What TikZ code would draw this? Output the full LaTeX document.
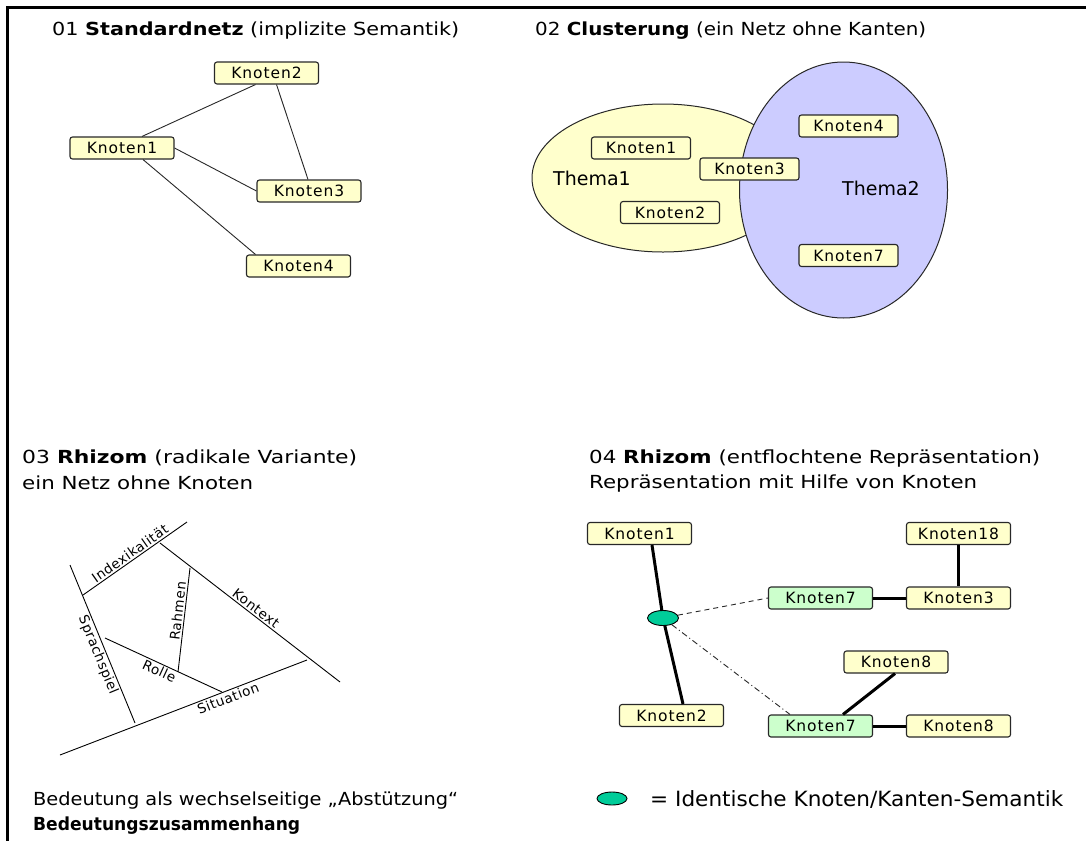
\documentclass[tikz,border=0pt]{standalone}
\usepackage{fontspec}
\usepackage{graphicx}
\setmainfont{DejaVu Sans}
\usetikzlibrary{shapes.geometric}
\definecolor{nodeyellow}{RGB}{255,255,204}
\definecolor{nodegreen}{RGB}{204,255,204}
\definecolor{clusteryellow}{RGB}{255,255,204}
\definecolor{clusterblue}{RGB}{204,204,255}
\definecolor{identgreen}{RGB}{0,204,153}
\definecolor{edgegray}{RGB}{40,40,40}
% set a line of text to a given overall width, keeping its height
\newcommand\fitline[2]{\resizebox{#1}{\height}{#2}}
\tikzset{
  knoten/.style={draw=edgegray, line width=1.1pt, fill=nodeyellow, rounded corners=2.5pt,
    minimum width=104pt, minimum height=22pt, inner sep=0pt,
    font=\fontsize{15.5}{15.5}\selectfont\addfontfeatures{LetterSpace=6}},
  knotengruen/.style={knoten, fill=nodegreen},
  title/.style={anchor=base west, inner sep=0pt, font=\fontsize{18}{20}\selectfont},
  thema/.style={inner sep=0pt, font=\fontsize{19}{20}\selectfont},
  thin edge/.style={draw=edgegray, line width=0.9pt},
  thick edge/.style={draw=black, line width=3pt},
  rhizom/.style={draw=black, line width=0.9pt},
  rlabel/.style={sloped, inner sep=1.5pt,
    font=\fontsize{13.5}{13.5}\selectfont\addfontfeatures{LetterSpace=4}},
  ident/.style={ellipse, draw=black, line width=0.9pt, fill=identgreen, minimum width=31pt,
    minimum height=15pt, inner sep=0pt},
  note/.style={anchor=base west, inner sep=0pt, font=\fontsize{18}{20}\selectfont},
}
\begin{document}
\begin{tikzpicture}[x=1pt,y=-1pt]
\useasboundingbox (0,0) rectangle (1086,841);
\fill[white] (0,0) rectangle (1086,841);

% frame
\coordinate (frameTL) at (7.5,7.5);
\coordinate (frameTR) at (1086,7.5);
\coordinate (frameBL) at (7.5,841);
\draw[line width=3pt] (frameTR) -- (frameTL) -- (frameBL);

% ---------- 01 Standardnetz ----------
\node[title] (t1) at (52,35) {\fitline{407pt}{01 \textbf{Standardnetz} (implizite Semantik)}};
\node[knoten] (s2) at (266.5,73) {Knoten2};
\node[knoten] (s1) at (122,148) {Knoten1};
\node[knoten] (s3) at (309,191) {Knoten3};
\node[knoten] (s4) at (298.5,266) {Knoten4};
\draw[thin edge] ([xshift=20pt]s1.north) -- ([xshift=-11pt]s2.south);
\draw[thin edge] ([xshift=10pt]s2.south) -- ([xshift=-1pt]s3.north);
\draw[thin edge] (s1.east) -- (s3.west);
\draw[thin edge] ([xshift=21pt]s1.south) -- ([xshift=-43pt]s4.north);

% ---------- 02 Clusterung ----------
\node[title] (t2) at (535,35) {\fitline{391pt}{02 \textbf{Clusterung} (ein Netz ohne Kanten)}};
\node[ellipse, draw=edgegray, line width=1pt, fill=clusteryellow, minimum width=262pt,
  minimum height=148pt, inner sep=0pt] (c1) at (663,178) {};
\node[ellipse, draw=edgegray, line width=1pt, fill=clusterblue, minimum width=208pt,
  minimum height=256pt, inner sep=0pt] (c2) at (843.5,190) {};
\node[thema] (th1) at (592,178) {Thema1};
\node[thema] (th2) at (881,188) {Thema2};
\node[knoten, minimum width=99pt] (u1) at (641,148) {Knoten1};
\node[knoten, minimum width=99pt] (u3) at (749.5,169) {Knoten3};
\node[knoten, minimum width=99pt] (u2) at (670,212.5) {Knoten2};
\node[knoten, minimum width=99pt] (u4) at (848.5,126) {Knoten4};
\node[knoten, minimum width=99pt] (u7) at (848.5,255.5) {Knoten7};

% ---------- 03 Rhizom (radikale Variante) ----------
\node[title] (t3a) at (22,463) {\fitline{335pt}{03 \textbf{Rhizom} (radikale Variante)}};
\node[title] (t3b) at (22,489) {\fitline{231pt}{ein Netz ohne Knoten}};
\coordinate (sp1) at (70,565);  \coordinate (sp2) at (135,723);
\coordinate (ix1) at (83,595);  \coordinate (ix2) at (187,522);
\coordinate (ko1) at (160,543); \coordinate (ko2) at (340,682);
\coordinate (ra1) at (178,672); \coordinate (ra2) at (190,568);
\coordinate (ro1) at (105,638); \coordinate (ro2) at (222,692);
\coordinate (si1) at (60,755);  \coordinate (si2) at (307,660);
\draw[rhizom] (sp1) -- node[rlabel, below, pos=0.55] {Sprachspiel} (sp2);
\draw[rhizom] (ix1) -- node[rlabel, above, pos=0.49] {Indexikalität} (ix2);
\draw[rhizom] (ko1) -- node[rlabel, above, pos=0.51] {Kontext} (ko2);
\draw[rhizom] (ra1) -- node[rlabel, above, pos=0.58] {Rahmen} (ra2);
\draw[rhizom] (ro1) -- node[rlabel, below, pos=0.49] {Rolle} (ro2);
\draw[rhizom] (si1) -- node[rlabel, below, pos=0.67] {Situation} (si2);

% ---------- 04 Rhizom (entflochtene Repraesentation) ----------
\node[title] (t4a) at (589,463) {\fitline{451pt}{04 \textbf{Rhizom} (entflochtene Repräsentation)}};
\node[title] (t4b) at (589,488) {\fitline{388pt}{Repräsentation mit Hilfe von Knoten}};
\node[knoten] (r1) at (639.5,533.5) {Knoten1};
\node[knoten] (r18) at (958.5,533.5) {Knoten18};
\node[knotengruen] (r7a) at (820.5,598) {Knoten7};
\node[knoten] (r3) at (958.5,598) {Knoten3};
\node[knoten] (r8a) at (896,662) {Knoten8};
\node[knoten] (r2) at (671.5,715.5) {Knoten2};
\node[knotengruen] (r7b) at (820.5,726) {Knoten7};
\node[knoten] (r8b) at (958.5,726) {Knoten8};
\node[ident] (id) at (663,618) {};
\draw[thick edge] ([xshift=12.5pt]r1.south) -- (id);
\draw[thick edge] (id) -- ([xshift=11.5pt]r2.north);
\draw[thin edge, dash pattern=on 5pt off 4pt] (id) -- (r7a.west);
\draw[thin edge, dash pattern=on 6pt off 3pt on 1pt off 3pt] (id) -- ([xshift=-30.5pt]r7b.north);
\draw[thick edge] (r7a) -- (r3);
\draw[thick edge] (r18) -- (r3);
\draw[thick edge] ([xshift=-1pt]r8a.south) -- ([xshift=22.5pt]r7b.north);
\draw[thick edge] (r7b) -- (r8b);

% ---------- notes ----------
\node[note] (n1) at (33,805) {\fitline{425pt}{Bedeutung als wechselseitige „Abstützung“}};
\node[note] (n2) at (33,830) {\fitline{267pt}{\bfseries Bedeutungszusammenhang}};
\node[ident, minimum width=30pt, minimum height=13pt] (lg) at (612,798.5) {};
\node[note, font=\fontsize{21}{22}\selectfont] (n3) at (650,806)
  {\fitline{413pt}{= Identische Knoten/Kanten-Semantik}};
\end{tikzpicture}
\end{document}
